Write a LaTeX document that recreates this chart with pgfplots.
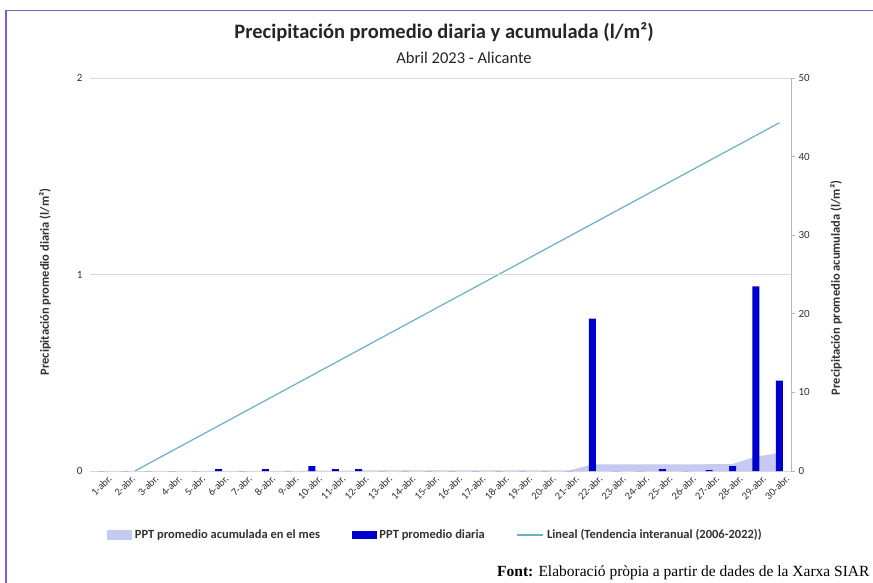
\documentclass[border=0pt]{standalone}
\usepackage{pgfplots}
\pgfplotsset{compat=1.18}
\usepackage{fontspec}
\setmainfont{Carlito}
\newfontfamily\seriffont{Liberation Serif}
\definecolor{barblue}{RGB}{0,0,205}
\definecolor{areacol}{RGB}{196,202,242}
\definecolor{linecol}{RGB}{105,178,198}
\definecolor{gridgray}{RGB}{217,217,217}
\definecolor{axgray}{RGB}{185,185,185}
\definecolor{purp}{RGB}{130,95,195}
\definecolor{txtgray}{RGB}{50,50,50}
\begin{document}
\begin{tikzpicture}[x=1pt,y=1pt]
\useasboundingbox (0,0) rectangle (873,582);
\fill[white] (0,0) rectangle (873,582);
\draw[purp, line width=1.2pt] (6,-5) -- (6,571.5) -- (880,571.5);
% right axis: accumulated area and trend line
\begin{axis}[at={(90pt,111pt)}, anchor=south west, scale only axis,
  width=701pt, height=393pt,
  xmin=0.5, xmax=30.5, ymin=0, ymax=50,
  axis x line=none, axis y line*=right,
  y axis line style={axgray, line width=0.8pt},
  ytick={0,10,20,30,40,50}, xtick=\empty,
  tick align=outside, major tick length=4pt,
  ytick style={axgray, line width=0.8pt},
  /pgf/number format/assume math mode=true,
  y tick label style={font=\fontsize{11}{13}\selectfont, text=txtgray},
  clip=true,
  legend columns=3,
  legend style={at={(0.493,-0.163)}, anchor=center, draw=none, fill=none,
    font=\bfseries\fontsize{12.5}{14}\selectfont, text=txtgray,
    /tikz/every odd column/.append style={column sep=1pt},
    /tikz/every even column/.append style={column sep=30pt}},
]
\addlegendimage{legend image code/.code={\fill[areacol] (0pt,-4.5pt) rectangle (24pt,4.5pt);}}
\addlegendentry{PPT promedio acumulada en el mes}
\addlegendimage{legend image code/.code={\fill[barblue] (0pt,-3.5pt) rectangle (24pt,3.5pt);}}
\addlegendentry{PPT promedio diaria}
\addlegendimage{legend image code/.code={\draw[linecol, line width=1.2pt] (0pt,0pt) -- (26pt,0pt);}}
\addlegendentry{Lineal (Tendencia interanual (2006-2022))}
\addplot[fill=areacol, draw=none, forget plot] coordinates {
(1,0) (2,0) (3,0) (4,0) (5,0) (6,0.01) (7,0.01) (8,0.02) (9,0.02) (10,0.045)
(11,0.055) (12,0.065) (13,0.065) (14,0.065) (15,0.065) (16,0.065) (17,0.065) (18,0.065) (19,0.065) (20,0.065)
(21,0.065) (22,0.845) (23,0.845) (24,0.845) (25,0.855) (26,0.855) (27,0.86) (28,0.885) (29,1.825) (30,2.285)
} \closedcycle;
\addplot[linecol, line width=1.2pt, forget plot] coordinates {(2.42,0) (30,44.3)};
\end{axis}
% left axis: daily bars
\begin{axis}[at={(90pt,111pt)}, anchor=south west, scale only axis,
  width=701pt, height=393pt,
  xmin=0.5, xmax=30.5, ymin=0, ymax=2,
  axis x line*=bottom, axis y line*=left,
  x axis line style={gridgray, line width=0.8pt},
  y axis line style={draw=none},
  ytick={0,1,2}, xtick={1,...,30},
  xticklabels={1-abr.,2-abr.,3-abr.,4-abr.,5-abr.,6-abr.,7-abr.,8-abr.,9-abr.,10-abr.,11-abr.,12-abr.,13-abr.,14-abr.,15-abr.,16-abr.,17-abr.,18-abr.,19-abr.,20-abr.,21-abr.,22-abr.,23-abr.,24-abr.,25-abr.,26-abr.,27-abr.,28-abr.,29-abr.,30-abr.},
  major tick length=0pt,
  ymajorgrids, grid style={gridgray, line width=0.8pt},
  /pgf/number format/assume math mode=true,
  y tick label style={font=\fontsize{11}{13}\selectfont, text=txtgray, xshift=-4pt},
  x tick label style={rotate=45, anchor=north east, font=\fontsize{10.5}{12}\selectfont, text=txtgray, xshift=5pt, yshift=-3pt},
]
\addplot[ybar, bar width=7pt, fill=barblue, draw=none] coordinates {
(1,0) (2,0) (3,0) (4,0) (5,0) (6,0.01) (7,0) (8,0.01) (9,0) (10,0.025)
(11,0.01) (12,0.01) (13,0) (14,0) (15,0) (16,0) (17,0) (18,0) (19,0) (20,0)
(21,0) (22,0.775) (23,0) (24,0) (25,0.01) (26,0) (27,0.005) (28,0.025) (29,0.94) (30,0.46)
};
\end{axis}
% titles and axis labels
\node[font=\bfseries\fontsize{20.5}{24}\selectfont, text=black!85] at (444,550) {Precipitación promedio diaria y acumulada (l/m²)};
\node[font=\fontsize{16.5}{19}\selectfont, text=black!85] at (464,524) {Abril 2023 - Alicante};
\node[rotate=90, font=\bfseries\fontsize{12.5}{14}\selectfont, text=txtgray] at (45,300) {Precipitación promedio diaria (l/m²)};
\node[rotate=90, font=\bfseries\fontsize{12.5}{14}\selectfont, text=txtgray] at (836,294) {Precipitación promedio acumulada (l/m²)};
\node[anchor=base east, font=\seriffont\fontsize{15.5}{18}\selectfont] at (873,5.5) {\textbf{Font:} Elaboració pròpia a partir de dades de la Xarxa SIAR};
\end{tikzpicture}
\end{document}
